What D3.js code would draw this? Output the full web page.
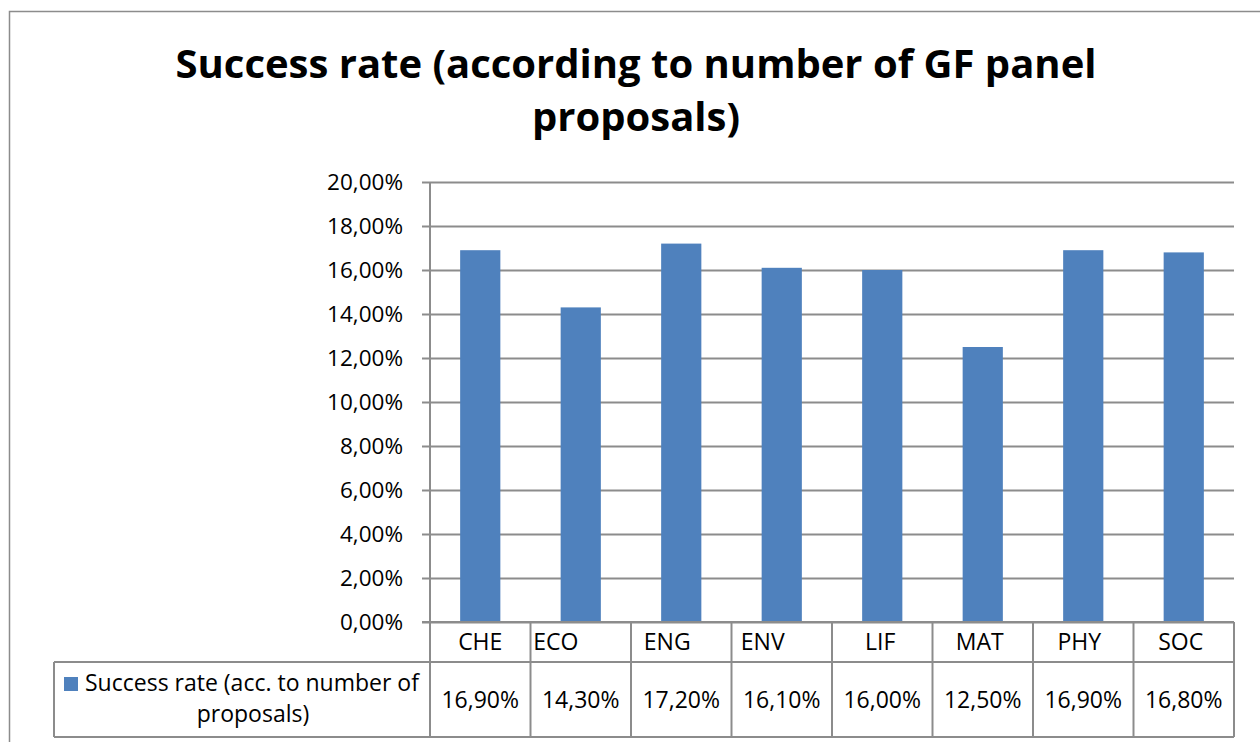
<!DOCTYPE html>
<html>
<head>
<meta charset="utf-8">
<script src="https://cdn.jsdelivr.net/npm/d3@7"></script>
<style>
  body { margin: 0; background: #fff; }
  text { font-family: "Open Sans", "Noto Sans", sans-serif; fill: #000; }
</style>
</head>
<body>
<div id="quadros"></div>
<script>
var width = 1260;
var height = 742;

// data
var categories = ['CHE', 'ECO', 'ENG', 'ENV', 'LIF', 'MAT', 'PHY', 'SOC'];
var successRate = [0.169, 0.143, 0.172, 0.161, 0.160, 0.125, 0.169, 0.168];
var seriesName = ['Success rate (acc. to number of', 'proposals)'];
var yTicks = [0, 0.02, 0.04, 0.06, 0.08, 0.10, 0.12, 0.14, 0.16, 0.18, 0.20];
var titleLines = ['Success rate (according to number of GF panel', 'proposals)'];

// layout (label nudges like in the original sheet)
var labelShift = [0, -25, -14, -19, -2, -3, -4, -3];

var barColor = '#4F81BD';
var lineColor = '#8c8c8c';

var plot = { left: 430, right: 1234, top: 182, bottom: 622 };
var table = { left: 54, rowTop: 662, bottom: 737 };

var locale = d3.formatLocale({ decimal: ',', thousands: '.', grouping: [3], currency: ['', '€'] });
var pct = locale.format('.2%');

var svg = d3.select('#quadros').append('svg')
    .attr('width', width)
    .attr('height', height);

// outer border
svg.append('rect')
    .attr('x', 9.5).attr('y', 11.5)
    .attr('width', width).attr('height', height)
    .attr('fill', 'none')
    .attr('stroke', lineColor)
    .attr('stroke-width', 1.5);

// title
svg.append('text')
    .attr('x', 636).attr('y', 78)
    .attr('text-anchor', 'middle')
    .style('font-weight', 'bold')
    .style('font-size', '40px')
    .text(titleLines[0]);
svg.append('text')
    .attr('x', 636).attr('y', 131)
    .attr('text-anchor', 'middle')
    .style('font-weight', 'bold')
    .style('font-size', '40px')
    .text(titleLines[1]);

var x = d3.scaleBand()
    .domain(categories)
    .range([plot.left, plot.right])
    .paddingInner(0).paddingOuter(0);

var y = d3.scaleLinear()
    .domain([0, 0.2])
    .range([plot.bottom, plot.top]);

// gridlines + ticks
var yAxis = d3.axisLeft(y)
    .tickValues(yTicks)
    .tickSize(-(plot.right - plot.left))
    .tickFormat(pct);

var gy = svg.append('g')
    .attr('transform', 'translate(' + plot.left + ',0)')
    .call(yAxis);
gy.select('.domain').remove();
gy.selectAll('.tick line')
    .attr('x1', -8)
    .attr('stroke', lineColor)
    .attr('stroke-width', 2);
gy.selectAll('.tick text')
    .attr('x', -27)
    .attr('dy', '0.34em')
    .style('font-size', '22.5px')
    .style('font-family', '"Open Sans", sans-serif')
    .attr('fill', '#000');

// bars
var barW = x.bandwidth() * 0.4;
svg.selectAll('rect.bar')
    .data(successRate)
    .enter().append('rect')
    .attr('class', 'bar')
    .attr('x', function (d, i) { return x(categories[i]) + (x.bandwidth() - barW) / 2; })
    .attr('y', function (d) { return y(d); })
    .attr('width', barW)
    .attr('height', function (d) { return y(0) - y(d); })
    .attr('fill', barColor);

// table lines
function line(x1, y1, x2, y2) {
  svg.append('line')
      .attr('x1', x1).attr('y1', y1)
      .attr('x2', x2).attr('y2', y2)
      .attr('stroke', lineColor)
      .attr('stroke-width', 2);
}
line(plot.left - 8, plot.bottom, plot.right, plot.bottom);
line(table.left, table.rowTop, plot.right, table.rowTop);
line(table.left, table.bottom, plot.right, table.bottom);
line(table.left, table.rowTop, table.left, table.bottom);
line(plot.left, plot.top, plot.left, table.bottom);
categories.forEach(function (c) {
  var xr = x(c) + x.bandwidth();
  line(xr, plot.bottom, xr, table.bottom);
});

// category labels
svg.selectAll('text.cat')
    .data(categories)
    .enter().append('text')
    .attr('class', 'cat')
    .attr('x', function (d, i) { return x(d) + x.bandwidth() / 2 + labelShift[i]; })
    .attr('y', 650)
    .attr('text-anchor', 'middle')
    .style('font-size', '23px')
    .text(function (d) { return d; });

// values row
svg.selectAll('text.val')
    .data(successRate)
    .enter().append('text')
    .attr('class', 'val')
    .attr('x', function (d, i) { return x(categories[i]) + x.bandwidth() / 2; })
    .attr('y', 708)
    .attr('text-anchor', 'middle')
    .style('font-size', '23px')
    .text(function (d) { return pct(d); });

// legend cell
svg.append('rect')
    .attr('x', 64).attr('y', 677)
    .attr('width', 14).attr('height', 14)
    .attr('fill', barColor);
svg.append('text')
    .attr('x', 85).attr('y', 691)
    .style('font-size', '23px')
    .text(seriesName[0]);
svg.append('text')
    .attr('x', 253).attr('y', 722)
    .attr('text-anchor', 'middle')
    .style('font-size', '23px')
    .text(seriesName[1]);
</script>
</body>
</html>
